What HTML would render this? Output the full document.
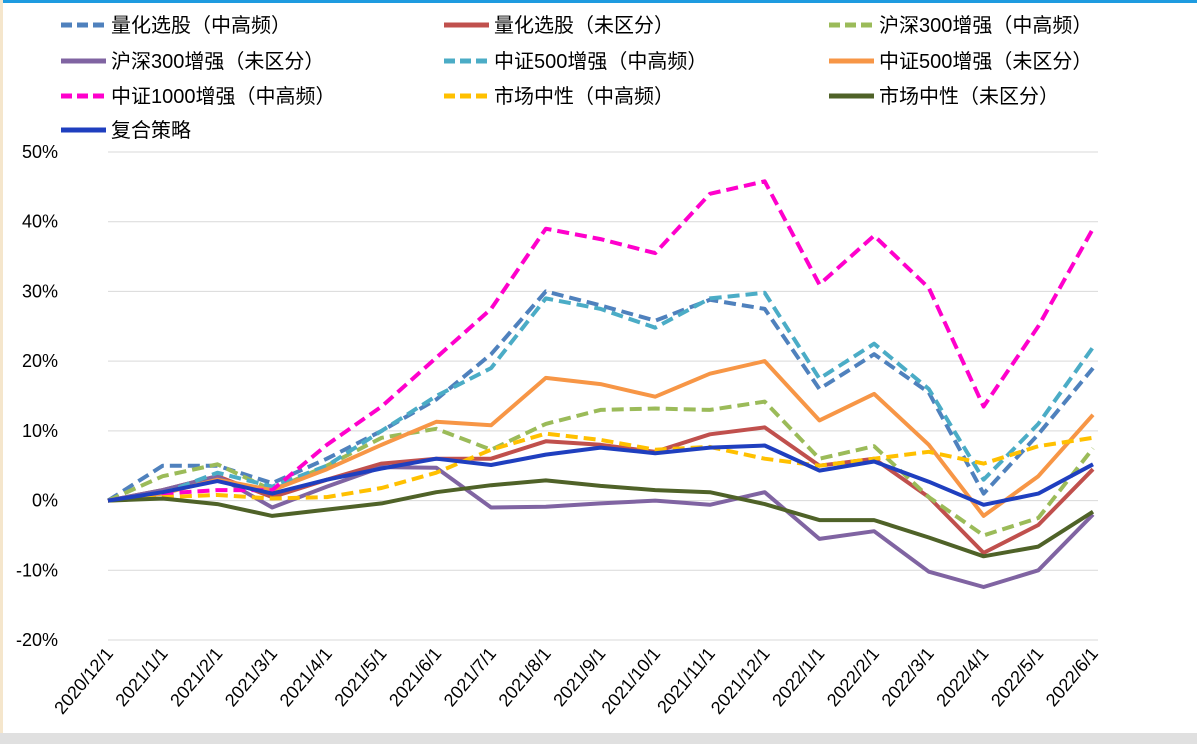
<!DOCTYPE html>
<html><head><meta charset="utf-8"><style>
body{margin:0;background:#fff;}
#wrap{position:relative;width:1197px;height:744px;overflow:hidden;background:#fff;font-family:"Liberation Sans","Noto Sans CJK SC",sans-serif;}
</style></head><body>
<div id="wrap">
<svg id="chart" width="1197" height="744"></svg>
</div>
<script>
const categories=["2020/12/1","2021/1/1","2021/2/1","2021/3/1","2021/4/1","2021/5/1","2021/6/1","2021/7/1","2021/8/1","2021/9/1","2021/10/1","2021/11/1","2021/12/1","2022/1/1","2022/2/1","2022/3/1","2022/4/1","2022/5/1","2022/6/1"];
const yTicks=[50,40,30,20,10,0,-10,-20];
const seriesNames=["量化选股（中高频）","量化选股（未区分）","沪深300增强（中高频）","沪深300增强（未区分）","中证500增强（中高频）","中证500增强（未区分）","中证1000增强（中高频）","市场中性（中高频）","市场中性（未区分）","复合策略"];
const s0=[0,5,5,2.5,6,10,14.5,21,30,28,25.8,28.8,27.5,16,21,15.5,1,9.5,19];
const s1=[0,1.5,3.5,0.5,3,5.3,6,6,8.5,8,7,9.5,10.5,5,6,0.5,-7.5,-3.5,4.5];
const s2=[0,3.5,5.2,1.5,5,9,10.3,7.3,11,13,13.2,13,14.2,6,7.8,0.5,-5,-2.5,7.5];
const s3=[0,1.5,3.5,-1,2,4.8,4.7,-1,-0.9,-0.4,0,-0.6,1.2,-5.5,-4.4,-10.2,-12.4,-10,-2];
const s4=[0,1,4,2,5,10,15,19,29,27.5,24.8,29,29.8,17.5,22.5,16,3,11,22];
const s5=[0,1,3,1.5,4.5,8,11.3,10.8,17.6,16.7,14.9,18.2,20,11.5,15.3,8,-2.2,3.5,12.3];
const s6=[0,1,1.5,1.5,8,13.5,20.5,27.5,39,37.5,35.5,44,45.8,31,38,30.5,13.5,25,39];
const s7=[0,0.5,0.8,0.3,0.5,1.8,4,7.3,9.6,8.7,7.3,7.7,6,5,6,7,5.3,7.8,9];
const s8=[0,0.3,-0.5,-2.2,-1.3,-0.4,1.2,2.2,2.9,2.1,1.5,1.2,-0.5,-2.8,-2.8,-5.3,-8,-6.6,-1.6];
const s9=[0,1.2,2.8,1,3,4.6,6,5.1,6.6,7.6,6.8,7.6,7.9,4.3,5.6,2.7,-0.6,1,5.2];
const allSeries=[s0,s1,s2,s3,s4,s5,s6,s7,s8,s9];
const colors=["#4f81bd","#c0504d","#9bbb59","#8064a2","#4bacc6","#f79646","#ff00cc","#ffc000","#4f6228","#1f3fbf"];
const dashed=[true,false,true,false,true,false,true,true,false,false];
const slugs=["quant-stock-hf","quant-stock-all","hs300-hf","hs300-all","zz500-hf","zz500-all","zz1000-hf","market-neutral-hf","market-neutral-all","composite"];

const NS="http://www.w3.org/2000/svg";
const svg=document.getElementById("chart");
function mk(t,a){const e=document.createElementNS(NS,t);for(const k in a)e.setAttribute(k,a[k]);svg.appendChild(e);return e;}
const x0=108,x1=1093,yTop=152,yBot=640,vMax=50,vMin=-20;
function xs(i){return x0+(x1-x0)*i/(categories.length-1);}
function ys(v){return yTop+(vMax-v)/(vMax-vMin)*(yBot-yTop);}

let f=mk("rect",{x:0,y:0,width:1197,height:3,fill:"#1e9be0"});


f=mk("rect",{x:0,y:0,width:3,height:744,fill:"#f5e6cc"});


f=mk("rect",{x:0,y:733,width:1197,height:11,fill:"#e0e0e0"});



yTicks.forEach(v=>{
  const g=mk("line",{x1:x0,x2:x1+5,y1:ys(v),y2:ys(v),stroke:"#d9d9d9","stroke-width":1});
  
  
  const t=mk("text",{x:58,y:ys(v)+6,"text-anchor":"end","font-size":18,fill:"#000"});
  t.textContent=v+"%";
  
  
});
categories.forEach((c,i)=>{
  const x=xs(i)+6,y=654;
  const t=mk("text",{x:x,y:y,"text-anchor":"end","font-size":18,fill:"#000",transform:`rotate(-50 ${x} ${y})`});
  t.textContent=c;
  
  
});
allSeries.forEach((s,k)=>{
  const pts=s.map((v,i)=>xs(i).toFixed(1)+","+ys(v).toFixed(1)).join(" ");
  const a={points:pts,fill:"none",stroke:colors[k],"stroke-width":4,"stroke-linejoin":"round"};
  if(dashed[k])a["stroke-dasharray"]="12,6";
  const p=mk("polyline",a);
  
  
});
const colX=[61,444,829],rowY=[25,61,96,130];
seriesNames.forEach((n,k)=>{
  const cx=colX[k%3],cy=rowY[Math.floor(k/3)];
  const a={x1:cx,x2:cx+45,y1:cy,y2:cy,stroke:colors[k],"stroke-width":5};
  if(dashed[k])a["stroke-dasharray"]="11,5";
  const l=mk("line",a);
  
  
  const t=mk("text",{x:cx+50,y:cy+7,"font-size":20,fill:"#000"});
  t.textContent=n;
  
  
});
</script>
</body></html>
